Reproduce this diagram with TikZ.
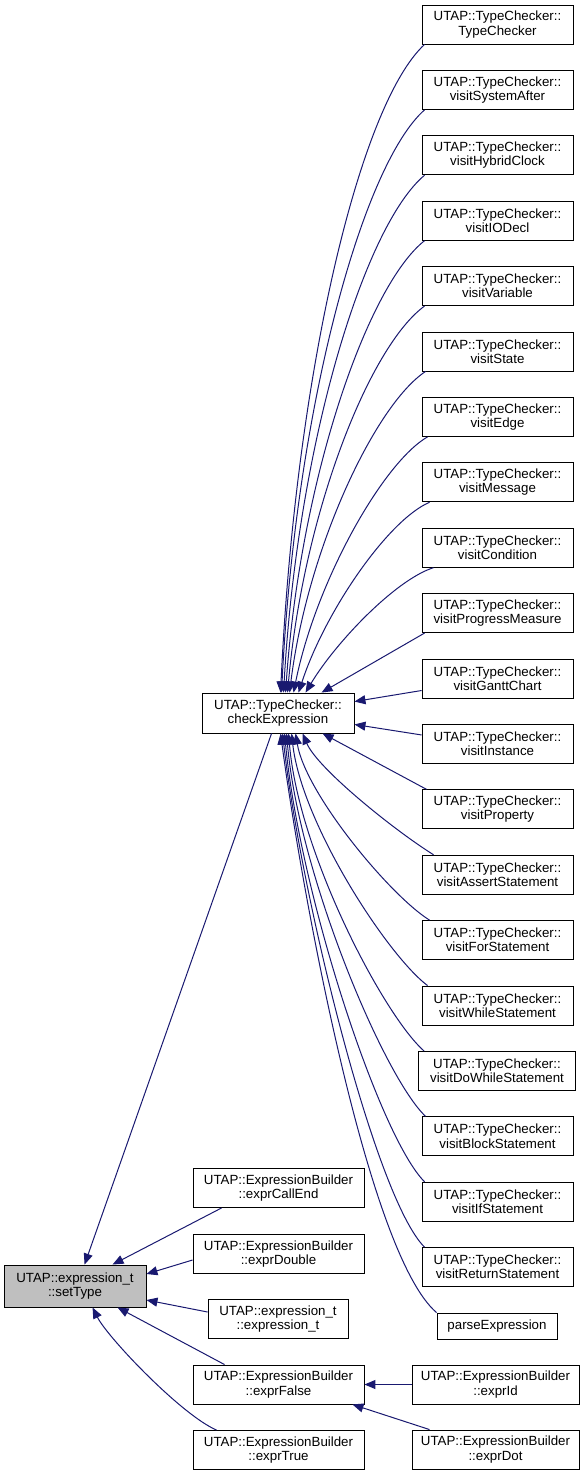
\documentclass[tikz,border=0pt]{standalone}
\usepackage{fontspec}
\setmainfont{Liberation Sans}
\usetikzlibrary{arrows.meta}
\definecolor{edgec}{HTML}{191970}
\definecolor{hl}{HTML}{BFBFBF}
\begin{document}
\begin{tikzpicture}[x=1pt,y=-1pt,
  box/.style={draw=black, line width=0.9pt, fill=white, align=center, inner sep=0pt,
    font=\fontsize{13.3}{14.2}\selectfont, minimum height=39pt},
  rbox/.style={box, minimum width=151pt},
  mbox/.style={box, minimum width=171pt},
  ebox/.style={box, minimum width=167pt},
  edge/.style={draw=edgec, line width=1pt, -{Triangle[length=11pt,width=9pt]}}]
\useasboundingbox (0,0) rectangle (588,1476);

% left / middle
\node[box, fill=hl, minimum width=142pt, minimum height=42pt] (st) at (75,1286) {UTAP::expression\_t\\::setType};
\node[box, minimum width=152pt, minimum height=40pt] (ck) at (278,713) {UTAP::TypeChecker::\\checkExpression};
\node[mbox] (callend) at (278.5,1188) {UTAP::ExpressionBuilder\\::exprCallEnd};
\node[mbox] (dbl) at (278.5,1254) {UTAP::ExpressionBuilder\\::exprDouble};
\node[box, minimum width=140pt] (exprt) at (278,1319) {UTAP::expression\_t\\::expression\_t};
\node[mbox] (efalse) at (278.5,1384.5) {UTAP::ExpressionBuilder\\::exprFalse};
\node[mbox] (etrue) at (278.5,1450) {UTAP::ExpressionBuilder\\::exprTrue};

% right column
\node[rbox] (r0) at (497.5,24.5) {UTAP::TypeChecker::\\TypeChecker};
\node[rbox] (r1) at (497.5,89.9) {UTAP::TypeChecker::\\visitSystemAfter};
\node[rbox] (r2) at (497.5,155.3) {UTAP::TypeChecker::\\visitHybridClock};
\node[rbox] (r3) at (497.5,220.7) {UTAP::TypeChecker::\\visitIODecl};
\node[rbox] (r4) at (497.5,286.1) {UTAP::TypeChecker::\\visitVariable};
\node[rbox] (r5) at (497.5,351.5) {UTAP::TypeChecker::\\visitState};
\node[rbox] (r6) at (497.5,416.9) {UTAP::TypeChecker::\\visitEdge};
\node[rbox] (r7) at (497.5,482.3) {UTAP::TypeChecker::\\visitMessage};
\node[rbox] (r8) at (497.5,547.7) {UTAP::TypeChecker::\\visitCondition};
\node[rbox] (r9) at (497.5,613.1) {UTAP::TypeChecker::\\visitProgressMeasure};
\node[rbox] (r10) at (497.5,678.5) {UTAP::TypeChecker::\\visitGanttChart};
\node[rbox] (r11) at (497.5,743.9) {UTAP::TypeChecker::\\visitInstance};
\node[rbox] (r12) at (497.5,809.3) {UTAP::TypeChecker::\\visitProperty};
\node[rbox] (r13) at (497.5,874.7) {UTAP::TypeChecker::\\visitAssertStatement};
\node[rbox] (r14) at (497.5,940.1) {UTAP::TypeChecker::\\visitForStatement};
\node[rbox] (r15) at (497.5,1005.5) {UTAP::TypeChecker::\\visitWhileStatement};
\node[box, minimum width=157pt] (r16) at (497,1070.9) {UTAP::TypeChecker::\\visitDoWhileStatement};
\node[rbox] (r17) at (497.5,1136.3) {UTAP::TypeChecker::\\visitBlockStatement};
\node[rbox] (r18) at (497.5,1201.7) {UTAP::TypeChecker::\\visitIfStatement};
\node[rbox] (r19) at (497.5,1267.1) {UTAP::TypeChecker::\\visitReturnStatement};
\node[box, minimum width=120pt, minimum height=26pt] (parse) at (497,1326) {parseExpression};
\node[ebox] (eid) at (495.5,1384.5) {UTAP::ExpressionBuilder\\::exprId};
\node[ebox] (edot) at (495.5,1449.5) {UTAP::ExpressionBuilder\\::exprDot};

% edges into checkExpression (top)
\draw[edge] ([xshift=3pt]r0.south west) .. controls +(-65,60) and +(15,-320) .. ([xshift=79pt]ck.north west);
\draw[edge] ([xshift=3pt]r1.south west) .. controls +(-62,55) and +(14,-285) .. ([xshift=80pt]ck.north west);
\draw[edge] ([xshift=3pt]r2.south west) .. controls +(-60,50) and +(14,-250) .. ([xshift=82pt]ck.north west);
\draw[edge] ([xshift=3pt]r3.south west) .. controls +(-57,45) and +(15,-215) .. ([xshift=84pt]ck.north west);
\draw[edge] ([xshift=3pt]r4.south west) .. controls +(-55,40) and +(16,-180) .. ([xshift=86pt]ck.north west);
\draw[edge] ([xshift=4pt]r5.south west) .. controls +(-50,33) and +(18,-145) .. ([xshift=88pt]ck.north west);
\draw[edge] ([xshift=6pt]r6.south west) .. controls +(-45,26) and +(22,-110) .. ([xshift=92pt]ck.north west);
\draw[edge] ([xshift=8pt]r7.south west) .. controls +(-42,18) and +(26,-80) .. ([xshift=97pt]ck.north west);
\draw[edge] ([xshift=12pt]r8.south west) .. controls +(-38,12) and +(30,-50) .. ([xshift=104pt]ck.north west);
\draw[edge] ([xshift=3pt]r9.south west) -- ([xshift=120pt]ck.north west);
% edges into checkExpression (side)
\draw[edge] ([yshift=-12pt]r10.west) -- ([yshift=-9pt]ck.north east);
\draw[edge] ([yshift=-11pt]r11.north west) -- ([yshift=9pt]ck.south east);
% edges into checkExpression (bottom)
\draw[edge] ([xshift=5pt]r12.north west) -- ([xshift=121pt]ck.south west);
\draw[edge] ([xshift=12pt]r13.north west) .. controls +(-40,-25) and +(15,35) .. ([xshift=101pt]ck.south west);
\draw[edge] ([xshift=8pt]r14.north west) .. controls +(-40,-25) and +(10,60) .. ([xshift=94pt]ck.south west);
\draw[edge] ([xshift=6pt]r15.north west) .. controls +(-40,-30) and +(10,90) .. ([xshift=90pt]ck.south west);
\draw[edge] ([xshift=6pt]r16.north west) .. controls +(-40,-35) and +(10,120) .. ([xshift=87pt]ck.south west);
\draw[edge] ([xshift=4pt]r17.north west) .. controls +(-42,-40) and +(12,140) .. ([xshift=85pt]ck.south west);
\draw[edge] ([xshift=3pt]r18.north west) .. controls +(-45,-45) and +(15,160) .. ([xshift=83pt]ck.south west);
\draw[edge] ([xshift=3pt]r19.north west) .. controls +(-50,-50) and +(18,160) .. ([xshift=81pt]ck.south west);
\draw[edge] (parse.north west) .. controls +(-70,-60) and +(20,150) .. ([xshift=79pt]ck.south west);

% edges into setType
\draw[edge] ([xshift=70pt]ck.south west) -- ([xshift=81pt]st.north west);
\draw[edge] ([xshift=29pt]callend.south west) -- ([xshift=109pt]st.north west);
\draw[edge] ([yshift=-6pt]dbl.west) -- ([yshift=12pt]st.east);
\draw[edge] ([yshift=7pt]exprt.west) -- ([yshift=-14pt]st.east);
\draw[edge] ([xshift=32pt]efalse.north west) -- ([xshift=114pt]st.south west);
\draw[edge] ([xshift=24pt]etrue.north west) .. controls +(-35,-15) and +(15,30) .. ([xshift=89pt]st.south west);

% edges into exprFalse
\draw[edge] (eid.west) -- (efalse.east);
\draw[edge] ([xshift=18pt]edot.north west) -- ([xshift=-12pt]efalse.south east);
\end{tikzpicture}
\end{document}
